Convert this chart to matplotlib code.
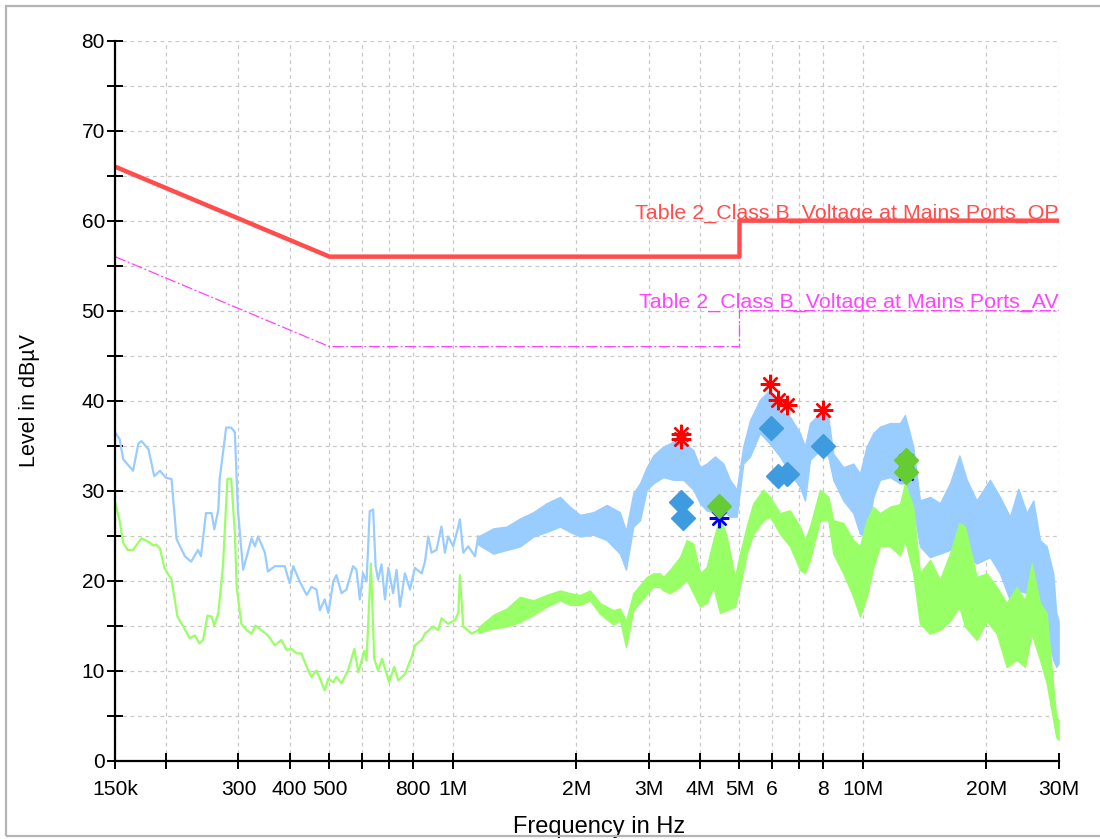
import numpy as np
import matplotlib
matplotlib.use("Agg")
import matplotlib.pyplot as plt
from matplotlib.ticker import MultipleLocator, NullLocator
from matplotlib.patches import Rectangle

plt.rcParams['font.family'] = ['Liberation Sans', 'DejaVu Sans']

# EN 55032 Class B limits at mains ports (MHz, dBuV)
qp_lim_f = [0.15, 0.5, 5.0, 5.0, 30.0]
qp_lim_db = [66, 56, 56, 60, 60]
av_lim_f = [0.15, 0.5, 5.0, 5.0, 30.0]
av_lim_db = [56, 46, 46, 50, 50]

# peak scan, low band (kHz, dBuV)
pk_lf_khz = [150, 154, 157, 166, 171, 174, 181, 187, 193, 200, 206, 212, 222, 230, 239, 243,
             250, 258, 262, 268, 270, 280, 288, 294, 299, 308, 323, 329, 335, 348, 354, 368,
             389, 400, 408, 423, 440, 452, 465, 474, 487, 497, 511, 520, 535, 550, 571, 582,
             593, 604, 616, 627, 639, 648, 657, 670, 683, 696, 715, 729, 743, 764, 786, 808,
             839, 855, 871, 887, 912, 938, 956, 974, 1002, 1031, 1040, 1060, 1090, 1132, 1153]
pk_lf_db = [36.5, 35.7, 33.5, 32.2, 35.2, 35.5, 34.6, 31.6, 32.2, 31.4, 31.3, 24.6, 22.7, 22.1, 23.4, 22.7,
            27.5, 27.5, 25.7, 27.9, 31.3, 37.0, 37.0, 36.5, 27.9, 21.2, 24.7, 23.8, 24.9, 23.1, 21.0, 21.6,
            21.6, 19.7, 21.6, 19.9, 18.4, 19.3, 19.0, 16.7, 17.9, 16.4, 19.9, 20.6, 18.6, 19.0, 21.6, 21.2,
            17.9, 20.8, 19.9, 27.7, 27.9, 21.6, 20.1, 21.8, 17.9, 21.4, 18.6, 21.2, 17.1, 20.8, 19.0, 21.4,
            20.8, 22.1, 24.9, 23.1, 23.4, 26.0, 23.1, 24.9, 23.8, 26.0, 26.8, 23.1, 23.8, 22.7, 24.9]

# average scan, low band (kHz, dBuV)
av_lf_khz = [150, 154, 157, 161, 166, 174, 181, 186, 189, 193, 198, 206, 213, 220, 228, 235,
             241, 246, 252, 258, 262, 268, 275, 282, 288, 294, 297, 305, 314, 323, 330, 341,
             354, 368, 382, 393, 404, 416, 427, 444, 452, 465, 478, 487, 497, 511, 520, 535,
             555, 575, 588, 608, 616, 631, 643, 657, 672, 699, 719, 736, 764, 793, 808, 839,
             855, 896, 921, 938, 974, 1012, 1031, 1040, 1060, 1111, 1153]
av_lf_db = [28.8, 26.6, 24.2, 23.4, 23.4, 24.7, 24.3, 23.9, 24.0, 23.6, 21.4, 20.1, 16.0, 14.9, 13.6, 13.9,
            13.0, 13.4, 16.1, 16.0, 15.0, 16.4, 21.6, 31.3, 31.3, 25.3, 19.3, 15.2, 14.5, 14.1, 15.0, 14.5,
            13.9, 12.8, 13.4, 12.3, 12.4, 11.9, 11.9, 10.0, 9.3, 10.0, 8.7, 7.8, 9.1, 8.7, 9.3, 8.6,
            10.0, 12.4, 9.8, 12.2, 11.1, 21.9, 11.3, 10.0, 11.3, 8.7, 10.4, 8.9, 9.6, 11.5, 12.8, 13.4,
            14.1, 14.9, 14.5, 15.8, 15.2, 15.6, 16.4, 20.6, 14.9, 14.1, 14.5]

# peak scan, high band: min/max envelope of the dense sweep (MHz, dBuV)
pk_hf_f = [1.153, 1.255, 1.353, 1.458, 1.571, 1.693, 1.825, 1.930, 2.042, 2.200, 2.372, 2.555,
           2.643, 2.754, 2.859, 2.970, 3.081, 3.259, 3.447, 3.646, 3.857, 4.005, 4.158, 4.357,
           4.565, 4.739, 4.921, 5.107, 5.303, 5.608, 5.932, 6.274, 6.638, 7.021, 7.221, 7.426,
           7.855, 8.230, 8.465, 8.953, 9.471, 9.833, 10.21, 10.60, 11.00, 11.64, 12.31, 12.66,
           13.26, 13.77, 14.57, 15.41, 16.30, 17.18, 17.91, 18.93, 20.40, 21.58, 22.83, 23.92,
           25.08, 26.02, 27.02, 28.05, 29.11, 29.6, 30.0]
pk_hf_lo = [24.0, 23.0, 23.4, 23.8, 24.9, 25.4, 26.0, 25.4, 24.9, 25.1, 24.5, 23.0,
            21.2, 26.0, 26.7, 30.1, 30.8, 31.5, 31.2, 31.2, 30.1, 28.6, 27.8, 27.5,
            27.8, 27.1, 27.1, 33.0, 33.8, 36.4, 35.2, 33.8, 31.9, 30.4, 28.9, 33.4,
            34.5, 33.8, 31.2, 28.9, 27.5, 25.2, 24.9, 29.3, 31.2, 31.5, 30.8, 30.8,
            28.2, 23.8, 22.6, 23.0, 23.4, 24.1, 22.6, 21.9, 22.6, 20.8, 17.8, 18.9,
            18.6, 19.3, 17.8, 14.1, 11.2, 10.4, 10.8]
pk_hf_hi = [24.9, 25.8, 26.0, 26.9, 27.6, 28.6, 29.3, 28.2, 27.3, 27.6, 28.4, 27.6,
            25.5, 29.7, 30.8, 32.6, 33.9, 34.9, 35.4, 35.4, 34.5, 32.6, 33.0, 33.8,
            33.0, 31.2, 30.1, 34.9, 37.8, 40.1, 41.2, 38.9, 38.2, 36.4, 34.9, 37.5,
            38.6, 38.2, 34.1, 32.6, 33.0, 31.9, 34.9, 36.4, 37.1, 37.5, 37.5, 38.4,
            34.9, 28.9, 29.3, 28.6, 30.8, 33.9, 31.2, 28.9, 31.2, 29.3, 27.1, 30.2,
            27.5, 28.9, 24.5, 23.8, 20.8, 16.4, 15.6]

# average scan, high band envelope (MHz, dBuV)
av_hf_f = [1.153, 1.255, 1.353, 1.458, 1.571, 1.693, 1.825, 1.930, 2.042, 2.159, 2.284, 2.462,
           2.555, 2.643, 2.754, 2.970, 3.081, 3.200, 3.259, 3.384, 3.579, 3.717, 3.857, 4.005,
           4.158, 4.316, 4.481, 4.651, 4.875, 5.013, 5.205, 5.403, 5.714, 5.932, 6.274, 6.638,
           7.021, 7.221, 7.426, 7.855, 8.230, 8.465, 8.953, 9.471, 9.833, 10.21, 10.60, 11.00,
           11.64, 12.31, 12.66, 13.26, 13.77, 14.57, 15.41, 16.30, 17.18, 17.73, 18.93, 20.04,
           21.19, 22.41, 23.70, 24.84, 25.79, 27.02, 28.05, 29.11, 29.6, 30.0]
av_hf_lo = [14.2, 14.7, 14.9, 15.4, 16.2, 17.1, 17.8, 17.3, 17.3, 17.8, 16.3, 15.1,
            15.6, 12.6, 16.7, 18.5, 19.3, 19.3, 18.9, 18.6, 19.3, 20.1, 18.6, 17.1,
            17.5, 19.3, 16.4, 16.7, 17.1, 19.3, 23.0, 25.2, 26.7, 27.1, 25.2, 23.8,
            21.2, 20.8, 22.3, 26.7, 26.7, 23.0, 20.8, 18.2, 16.0, 18.2, 21.5, 23.8,
            23.8, 22.8, 24.5, 20.8, 15.2, 14.1, 14.5, 15.5, 17.1, 14.9, 13.4, 15.5,
            14.1, 10.4, 11.2, 10.4, 14.1, 11.2, 8.6, 4.5, 2.6, 2.3]
av_hf_hi = [14.8, 16.2, 16.9, 18.2, 17.8, 18.4, 18.9, 18.6, 18.4, 18.9, 17.5, 16.7,
            16.9, 15.5, 18.6, 20.4, 20.8, 20.8, 20.4, 21.2, 22.6, 24.5, 24.1, 20.8,
            21.5, 24.5, 27.1, 24.9, 20.4, 23.0, 26.0, 28.6, 30.1, 29.3, 27.5, 27.8,
            26.0, 24.5, 26.0, 30.1, 29.3, 26.7, 26.4, 24.5, 23.8, 26.7, 28.2, 27.5,
            28.2, 28.5, 30.8, 28.2, 20.8, 22.3, 20.1, 23.0, 26.4, 26.0, 20.4, 20.8,
            19.3, 17.5, 19.3, 17.8, 21.9, 17.5, 16.4, 8.2, 4.9, 4.5]

# critical frequencies and final measurements (MHz, dBuV)
qp_crit_f = [3.61, 3.60, 5.93, 6.21, 6.52, 7.98]
qp_crit_db = [36.3, 35.7, 41.8, 40.1, 39.5, 38.9]
qp_final_f = [3.60, 3.64, 5.97, 6.21, 6.54, 8.00]
qp_final_db = [28.7, 27.0, 37.0, 31.6, 31.8, 35.0]
av_crit_f = [4.46, 12.7, 12.7]
av_crit_db = [26.9, 33.3, 32.0]
av_final_f = [4.46, 12.7, 12.7]
av_final_db = [28.3, 33.4, 32.1]

xticks = [0.15, 0.2, 0.3, 0.4, 0.5, 0.6, 0.7, 0.8, 1, 2, 3, 4, 5, 6, 7, 8, 10, 20, 30]
xlabels = ['150k', '', '300', '400', '500', '', '', '800', '1M', '2M', '3M', '4M', '5M',
           '6', '', '8', '10M', '20M', '30M']

PK_COL = '#99ccff'
AV_COL = '#99ff66'

fig = plt.figure(figsize=(11, 8.39), dpi=100)
ax = fig.add_axes([115 / 1100, 78.5 / 839, 943.6 / 1100, 719.8 / 839])

# spectra
ax.plot(np.array(pk_lf_khz) / 1000, pk_lf_db, color=PK_COL, lw=1.6, zorder=2)
ax.fill_between(pk_hf_f, pk_hf_lo, pk_hf_hi, color=PK_COL, lw=1.0, zorder=2)
ax.plot(np.array(av_lf_khz) / 1000, av_lf_db, color=AV_COL, lw=1.6, zorder=2.1)
ax.fill_between(av_hf_f, av_hf_lo, av_hf_hi, color=AV_COL, lw=1.0, zorder=2.1)

# limit lines
ax.plot(qp_lim_f, qp_lim_db, color='#ff4d4d', lw=3.2, zorder=3)
ax.plot(av_lim_f, av_lim_db, color='#ff44ff', lw=0.9, ls=(0, (9, 2, 1.5, 2)), zorder=3)
ax.text(30, 60.25, 'Table 2_Class B_Voltage at Mains Ports_QP', ha='right', va='baseline',
        color='#ff4d4d', fontsize=15.4, zorder=4)
ax.text(30, 50.35, 'Table 2_Class B_Voltage at Mains Ports_AV', ha='right', va='baseline',
        color='#ff44ff', fontsize=15.4, zorder=4)

# markers
ast = (8, 2, 0)
ax.plot(av_crit_f, av_crit_db, ls='none', marker=ast, ms=14, mew=1.7, color='#0000ff', zorder=5)
ax.plot(qp_final_f, qp_final_db, ls='none', marker='D', ms=12, color='#3f9be0', mec='#3f9be0', zorder=6)
ax.plot(av_final_f, av_final_db, ls='none', marker='D', ms=12, color='#66cc33', mec='#66cc33', zorder=6)
ax.plot(qp_crit_f, qp_crit_db, ls='none', marker=ast, ms=14, mew=1.7, color='#ff0000', zorder=7)

# axes
ax.set_xscale('log')
ax.set_xlim(0.15, 30)
ax.set_ylim(0, 80)
ax.set_xticks(xticks)
ax.set_xticklabels(xlabels)
ax.xaxis.set_minor_locator(NullLocator())
ax.yaxis.set_major_locator(MultipleLocator(10))
ax.yaxis.set_minor_locator(MultipleLocator(5))
ax.tick_params(which='both', direction='inout', length=11.5, width=1.4, color='black')
ax.tick_params(axis='x', labelsize=15.2, pad=8.5)
ax.tick_params(axis='y', labelsize=15, pad=1.5)

ax.grid(True, which='major', axis='x', color='#c8c8c8', ls=(0, (3, 3)), lw=0.9)
ax.grid(True, which='both', axis='y', color='#c8c8c8', ls=(0, (3, 3)), lw=0.9)
ax.set_axisbelow(True)

for side in ('top', 'right'):
    ax.spines[side].set_visible(False)
for side in ('left', 'bottom'):
    ax.spines[side].set_linewidth(1.6)
    ax.spines[side].set_zorder(8)

ax.set_ylabel('Level in dBµV', fontsize=15.5)
ax.yaxis.set_label_coords(-0.079, 0.5)
ax.set_xlabel('Frequency in Hz', fontsize=17)
ax.xaxis.set_label_coords(0.513, -0.077)

# outer frame
fig.patches.append(Rectangle((5.5 / 1100, 3 / 839), 1.1, 830 / 839, transform=fig.transFigure,
                             fill=False, edgecolor='#b4b4b4', lw=1.6, clip_on=False))

fig.savefig('out.png', dpi=100)
